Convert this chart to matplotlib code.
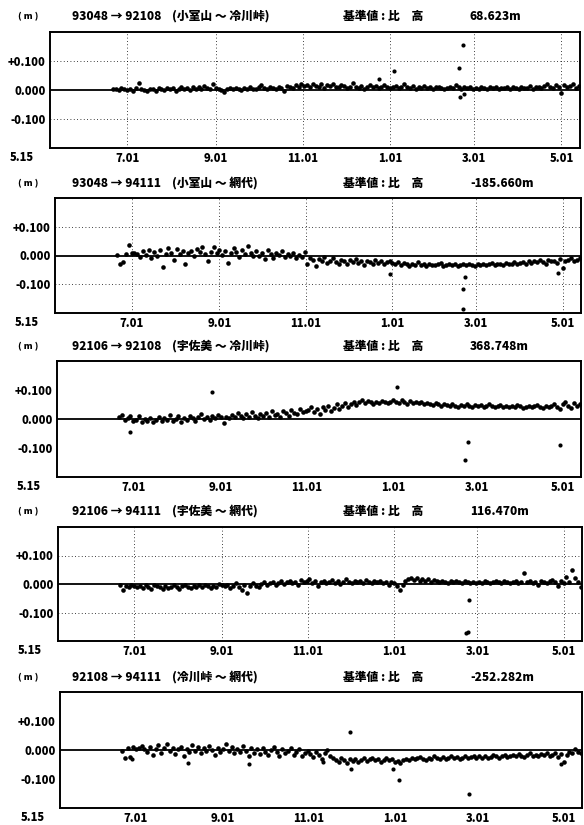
import matplotlib
matplotlib.use("Agg")
import matplotlib.pyplot as plt
import numpy as np
import pandas as pd

plt.rcParams['font.family'] = ['Noto Sans CJK JP', 'DejaVu Sans']

# readings every 2 days, values in mm (0.001 of the axis unit)
SERIES_START = "1992-06-21"

P1_VALUES = [2, 5, 0, 8, 3, 1,
             3, -2, 6, 25, 4, 0, -3, 5, 2, -4, 7, 3, 0, 8, 2, 6, -5, 4, 10, 3, 7, 1, 12, 5, 9, 2, 14, 6, 3, 20, 8,
             4, 0, -6, 3, 6, 2, 8, 4, 1, 7, 3, 9, 5, 2, 10, 18, 6, 3, 11, 7, 4, 12, 8, -3, 14, 9, 6, 16, 11, 20,
             13, 18, 10, 22, 15, 12, 19, 8, 16, 14, 20, 11, 9, 17, 13, 6, 10, 24, 12, 8, 15, 5, 11, 18, 9, 14, 7, 10, 16, 12, 8,
             10, 14, 6, 12, 20, 9, 7, 13, 5, 11, 8, 15, 6, 10, 4, 9, 12, 7, 3, 8, 11, 6, 18, 9, 5, 10, 7, 12, 4,
             8, 5, 10, 6, 3, 9, 7, 11, 4, 8, 6, 12, 5, 9, 7, 3, 10, 6, 8, 13, 5, 9, 11, 7, 14, 20, 10, 8, 16, 12, -12, 18, 10, 15, 22, 8, 14]
P1_OUT_DATES = ["1992-12-24", "1993-01-04", "1993-02-21", "1993-02-18", "1993-02-19", "1993-02-22"]
P1_OUT_VALUES = [39, 67, 154, 77, -25, -14]

P2_VALUES = [2, -28, -24, 5, 36, 8,
             10, 6, -5, 15, 3, 20, -8, 12, 0, 18, -40, 6, 25, 10, -15, 22, 4, 14, -30, 8, 16, -2, 24, 11, 30, 5, -20, 13, 28, 7, 18,
             2, 15, -25, 9, 26, 12, -6, 20, 4, 32, 10, -3, 14, 0, 8, -12, 18, 5, -8, 10, 2, 14, -5, 6, -2, 9, -10, 3, -4, 12,
             -30, -8, -15, -38, -12, -20, -5, -25, -18, -10, -22, -28, -14, -20, -30, -16, -24, -12, -26, -20, -32, -18, -22, -28, -15, -25, -20, -30, -24, -18, -26,
             -30, -22, -34, -26, -30, -38, -28, -32, -24, -34, -30, -36, -28, -32, -34, -30, -26, -36, -32, -28, -34, -30, -36, -32, -30, -34, -28, -32, -36,
             -30, -34, -28, -32, -30, -26, -34, -30, -28, -32, -26, -30, -28, -24, -30, -26, -22, -28, -20, -26, -18, -24, -16, -22, -28, -14, -20, -18, -26, -12, -45, -20, -16, -10, -18, -14, -8]
P2_OUT_DATES = ["1992-12-30", "1993-02-21", "1993-02-20", "1993-02-20", "1993-04-28"]
P2_OUT_VALUES = [-63, -74, -116, -186, -60]

P3_VALUES = [8, 14, -5, 2, 10, -8,
             -3, 12, -10, 0, -6, 4, -12, -2, 8, -8, 2, -4, 14, -6, 0, 10, -10, 4, -2, 12, 2, -6, 6, 16, 0, 8, -4, 10, 4, 14, 6,
             -14, 8, 2, 14, 6, 20, 10, 4, 18, 8, 24, 12, 2, 16, 10, 22, 6, 28, 14, 18, 8, 26, 20, 12, 30, 22, 16, 34, 24, 28,
             30, 40, 24, 36, 18, 42, 32, 46, 28, 38, 50, 34, 44, 56, 40, 52, 60, 48, 58, 64, 54, 62, 58, 52, 60, 56, 62, 58, 54, 60, 64,
             60, 56, 64, 58, 52, 62, 56, 60, 54, 58, 50, 56, 52, 48, 54, 50, 46, 52, 48, 44, 50, 46, 42, 48, 44, 50, 46, 42, 48,
             44, 48, 42, 46, 50, 44, 40, 46, 48, 42, 44, 40, 46, 42, 48, 44, 38, 42, 46, 40, 44, 48, 42, 38, 44, 40, 46, 50, 42, 36, 52, 60, 44, 38, 54, 46, 50]
P3_OUT_DATES = ["1992-06-29", "1992-08-26", "1993-01-04", "1993-02-23", "1993-02-21", "1993-04-29"]
P3_OUT_VALUES = [-45, 92, 112, -80, -140, -90]

P4_VALUES = [-2, -22, -6, -10, -4, -8,
             -12, -6, -14, -4, -10, -16, -2, -8, -12, -18, -6, -14, -10, -4, -12, -16, -8, -2, -10, -14, -6, -12, -4, -10, -2, -8, -14, -6, -10, 0, -4,
             -8, -2, -14, -6, 4, -10, -20, -4, -32, -8, 2, -6, -12, 0, 6, -4, 2, 8, -2, 4, 10, 0, 6, 12, 2, 8, -4, 14, 6, 10,
             18, 4, 10, -8, 6, 12, 2, 8, 14, 4, 10, 0, 6, 16, 8, 2, 12, 6, 10, 4, 14, 8, 2, 10, 6, 12, 4, 8, -2, 6, 2,
             -8, -22, -4, 10, 16, 20, 14, 22, 12, 18, 10, 16, 8, 14, 10, 6, 12, 8, 4, 10, 6, 12, 8, 4, 10, 6, 2, 8, 4,
             8, 4, 10, 6, 2, 8, 12, 6, 4, 10, 8, 2, 6, 10, 4, 8, 38, 6, 10, 4, 8, -4, 12, 6, 2, 10, 14, 6, -8, 10, 4, 26, 8, 48, 20, 6, -12]
P4_OUT_DATES = ["1993-02-23", "1993-02-22", "1993-02-21"]
P4_OUT_VALUES = [-56, -168, -173]

P5_VALUES = [-2, -28, 6, -24, 12, 2,
             8, 14, 4, -6, 10, -18, 2, 16, -10, 6, 20, -4, 8, -14, 2, 12, -20, 4, -8, 18, -2, 10, -12, 6, -4, 14, 0, -16, 8, -6, 2,
             20, -4, 10, -12, 4, -8, 14, -2, -20, 6, -10, 2, -14, 8, -6, -18, 0, 10, -8, -22, 4, -12, -4, 6, -16, -8, 2, -20, -10, -4,
             -14, -24, -8, -18, -30, -12, 0, -20, -26, -34, -40, -28, -36, -44, -32, -38, -30, -42, -34, -28, -38, -32, -26, -36, -30, -40, -34, -28, -36, -32, -42,
             -38, -44, -34, -30, -36, -26, -32, -28, -24, -30, -34, -26, -30, -22, -28, -32, -24, -30, -26, -20, -28, -24, -30, -26, -22, -28, -24, -20, -26,
             -22, -26, -20, -28, -24, -18, -22, -26, -20, -16, -24, -20, -18, -22, -14, -20, -24, -18, -12, -20, -16, -22, -14, -18, -10, -20, -16, -12, -24, -14, -40, -18, -8, -12, 2, -6, -10]
P5_OUT_DATES = ["1992-06-28", "1992-08-07", "1992-09-19", "1992-11-11", "1992-11-30", "1992-12-01",
                "1992-12-31", "1993-01-04", "1993-02-23", "1993-04-29"]
P5_OUT_VALUES = [-30, -46, -48, -42, 63, -66, -64, -105, -153, -48]

TITLE_ROUTES = ["93048 → 92108", "93048 → 94111", "92106 → 92108", "92106 → 94111", "92108 → 94111"]
TITLE_STATIONS = ["(小室山 ～ 冷川峠)", "(小室山 ～ 網代)", "(宇佐美 ～ 冷川峠)", "(宇佐美 ～ 網代)", "(冷川峠 ～ 網代)"]
TITLE_BASES = ["68.623m", "-185.660m", "368.748m", "116.470m", "-252.282m"]

TICK_DATES = ["1992-07-01", "1992-09-01", "1992-11-01", "1993-01-01", "1993-03-01", "1993-05-01"]
TICK_LABELS = ["7.01", "9.01", "11.01", "1.01", "3.01", "5.01"]
Y_TICKS = [0.1, 0.0, -0.1]
Y_LABELS = ["+0.100", "0.000", "-0.100"]

W, H = 584, 825
# box pixel geometry per panel: left, right, top, bottom, title y
BOXES = [(50, 580, 32, 148, 16), (55, 581, 198, 313, 183), (57, 581, 361, 477, 346),
         (58, 582, 527, 641, 511), (60, 582, 692, 808, 677)]
HAS_GRID = [True, True, False, True, False]

fig = plt.figure(figsize=(W / 100, H / 100), dpi=100)

panels = [(P1_VALUES, P1_OUT_DATES, P1_OUT_VALUES), (P2_VALUES, P2_OUT_DATES, P2_OUT_VALUES),
          (P3_VALUES, P3_OUT_DATES, P3_OUT_VALUES), (P4_VALUES, P4_OUT_DATES, P4_OUT_VALUES),
          (P5_VALUES, P5_OUT_DATES, P5_OUT_VALUES)]

for k, (values, out_dates, out_vals) in enumerate(panels):
    left, right, top, bottom, ty = BOXES[k]
    ax = fig.add_axes([left / W, 1 - bottom / H, (right - left) / W, (bottom - top) / H])

    dates = pd.date_range(SERIES_START, periods=len(values), freq="2D")
    ax.plot(dates, np.array(values) / 1000, 'o', ms=3.3, color='black', mec='none')
    ax.plot(pd.to_datetime(out_dates), np.array(out_vals) / 1000, 'o', ms=3.0,
            color='black', mec='none')

    ax.axhline(0, color='black', lw=1.3, zorder=1)
    if HAS_GRID[k]:
        for yv in (0.1, -0.1):
            ax.axhline(yv, color='black', lw=0.6, ls=(0, (1, 3)), zorder=0)
        for d in TICK_DATES:
            ax.axvline(pd.Timestamp(d), color='black', lw=0.6, ls=(0, (1, 3)), zorder=0)

    ax.set_xlim(pd.Timestamp("1992-05-08"), pd.Timestamp("1993-05-14"))
    ax.set_ylim(-0.2, 0.2)
    ax.set_xticks(pd.to_datetime(TICK_DATES))
    ax.set_xticklabels(TICK_LABELS, fontsize=8, fontweight='heavy')
    ax.set_yticks(Y_TICKS)
    ax.set_yticklabels(Y_LABELS, fontsize=8, fontweight='heavy')
    ax.tick_params(length=0, pad=3)
    for s in ax.spines.values():
        s.set_linewidth(1.4)
    ax.text(-0.053, -0.08, "5.15", transform=ax.transAxes, ha='center', va='center',
            fontsize=8, fontweight='heavy')

    yf = 1 - ty / H
    fig.text(18 / W, yf, "( m )", fontsize=6.5, fontweight='heavy', va='center')
    fig.text(72 / W, yf, TITLE_ROUTES[k], fontsize=8.5, fontweight='heavy', va='center')
    fig.text(172 / W, yf, TITLE_STATIONS[k], fontsize=8.5, fontweight='heavy', va='center')
    fig.text(343 / W, yf, "基準値 : 比　高", fontsize=8.5, fontweight='heavy', va='center')
    fig.text(470 / W, yf, TITLE_BASES[k], fontsize=8.5, fontweight='heavy', va='center')

fig.savefig("out.png", dpi=100)
